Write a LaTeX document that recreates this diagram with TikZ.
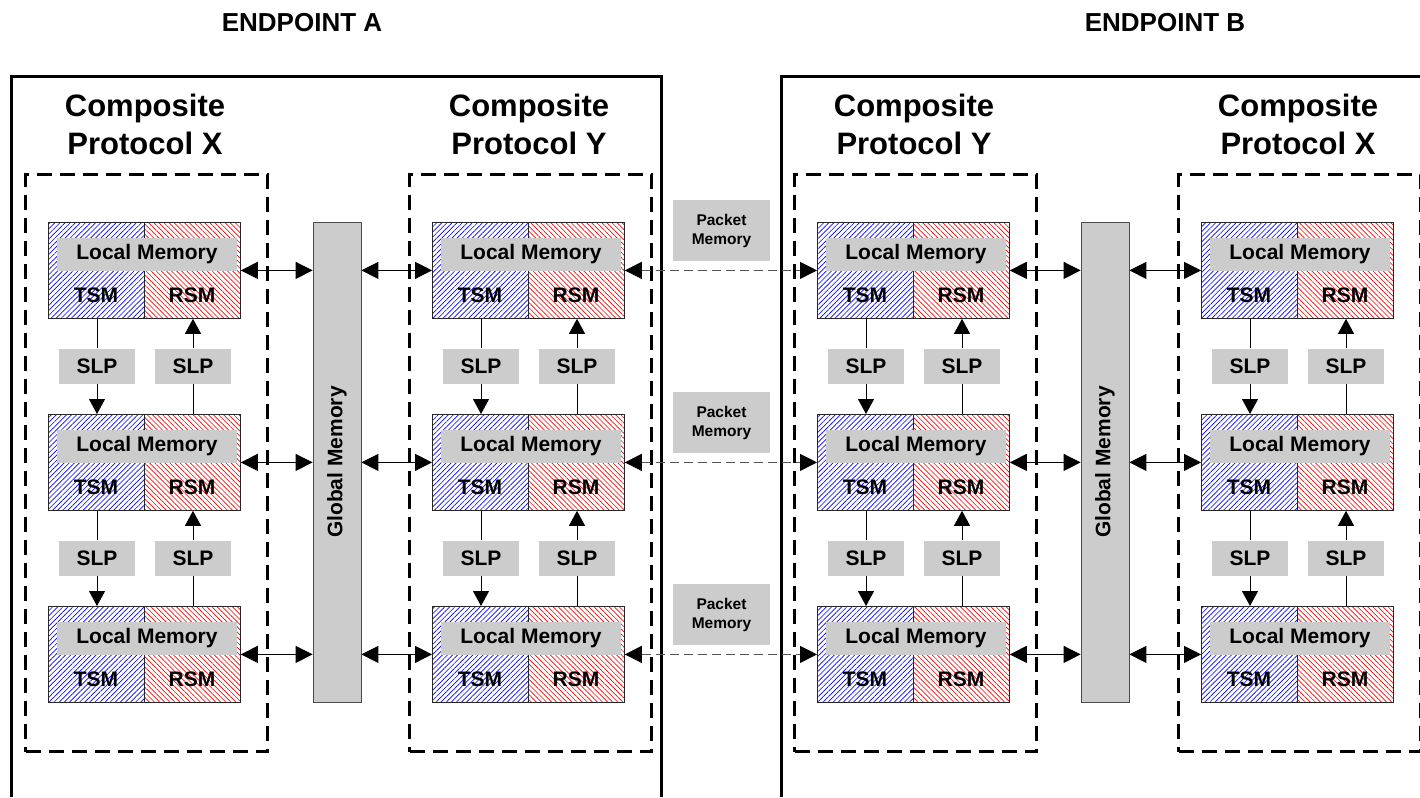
\documentclass[tikz,border=0pt]{standalone}
\usepackage{fontspec}
\setmainfont{Liberation Sans}
\usetikzlibrary{arrows.meta,patterns.meta}
\definecolor{boxgray}{HTML}{CCCCCC}
\definecolor{pktline}{HTML}{555555}
\tikzset{
  half/.style={draw=black!85, line width=0.8pt, minimum width=96pt, minimum height=96pt, inner sep=0pt},
  tsmbox/.style={half, pattern={Lines[angle=45,distance=3.6pt,line width=0.65pt]}, pattern color=blue},
  rsmbox/.style={half, pattern={Lines[angle=-45,distance=3.6pt,line width=0.65pt]}, pattern color=red},
  modframe/.style={draw=black!85, line width=0.8pt, minimum width=192pt, minimum height=96pt, inner sep=0pt},
  lmbar/.style={fill=boxgray, minimum width=180pt, minimum height=33pt, inner sep=0pt, font=\fontsize{21}{24}\selectfont\bfseries},
  modlbl/.style={inner sep=0pt, font=\fontsize{21}{24}\selectfont\bfseries},
  slpbox/.style={fill=boxgray, minimum width=76pt, minimum height=35pt, inner sep=0pt, font=\fontsize{21}{24}\selectfont\bfseries},
  gmbox/.style={fill=boxgray, draw=black!70, line width=0.8pt, minimum width=48pt, minimum height=480pt, inner sep=0pt, font=\fontsize{21}{24}\selectfont\bfseries},
  pktbox/.style={fill=boxgray, minimum width=97pt, minimum height=61pt, inner sep=0pt, align=center, font=\fontsize{15.5}{19}\selectfont\bfseries},
  dbox/.style={draw, line width=3pt, dash pattern=on 15pt off 8pt, minimum width=242pt, minimum height=577pt, inner sep=0pt},
  heading/.style={align=center, inner sep=0pt, font=\fontsize{31}{38}\selectfont\bfseries},
  title/.style={inner sep=0pt, font=\fontsize{26}{30}\selectfont\bfseries},
  dbl/.style={line width=0.9pt, arrows={Triangle[length=17pt,width=17pt]-Triangle[length=17pt,width=17pt]}},
  pkt/.style={line width=1.2pt, draw=pktline, dash pattern=on 9pt off 5pt, arrows={Triangle[length=17pt,width=17pt,color=black]-Triangle[length=17pt,width=17pt,color=black]}},
  sarr/.style={line width=0.9pt, arrows={-Triangle[length=15pt,width=16pt]}},
  sline/.style={line width=0.9pt},
  epbox/.style={line width=3pt}
}
\newcommand\mymod[3]{%
  \node[tsmbox,anchor=north west] (#1t) at (#2,#3) {};
  \node[rsmbox,anchor=north west] (#1r) at (#2+96,#3) {};
  \node[modframe,anchor=north west] (#1) at (#2,#3) {};
  \node[lmbar] (#1l) at (#2+99,#3+32) {Local Memory};
  \node[modlbl] (#1tl) at (#2+48,#3+73) {TSM};
  \node[modlbl] (#1rl) at (#2+144,#3+73) {RSM};
}
\begin{document}
\begin{tikzpicture}[x=1pt,y=-1pt]
\useasboundingbox (0,0) rectangle (1420,797);
% titles
\node[title] (tA) at (302,23) {ENDPOINT A};
\node[title] (tB) at (1165,23) {ENDPOINT B};
% endpoint frames
\coordinate (eA1) at (11,797);
\coordinate (eA2) at (11,77);
\coordinate (eA3) at (661,77);
\coordinate (eA4) at (661,797);
\draw[epbox] (eA1) -- (eA2) -- (eA3) -- (eA4);
\coordinate (eB1) at (781,797);
\coordinate (eB2) at (781,77);
\coordinate (eB3) at (1425,77);
\draw[epbox] (eB1) -- (eB2) -- (eB3);
% headings and dashed containers
\foreach \c/\d/\h in {ax/24/X, ay/408/Y, by/793/Y, bx/1177/X} {
  \node[dbox,anchor=north west] (d\c) at (\d,173) {};
  \node[heading] (h\c) at (\d+121,124) {Composite\\Protocol \h};
}
% global memories
\node[gmbox] (gA) at (337,462) {\rotatebox{90}{Global Memory}};
\node[gmbox] (gB) at (1105,462) {\rotatebox{90}{Global Memory}};
% modules
\foreach \c/\x in {ax/48, ay/432, by/817, bx/1201} {
  \foreach \r/\y in {1/222, 2/414, 3/606} {
    \mymod{\c\r}{\x}{\y}
  }
  \foreach \r/\y/\n in {1/222/2, 2/414/3} {
    \node[slpbox] (\c s\r a) at (\x+49,\y+144) {SLP};
    \node[slpbox] (\c s\r b) at (\x+145,\y+144) {SLP};
    \draw[sline] (\c s\r a.north |- \c\r.south) -- (\c s\r a.north);
    \draw[sarr] (\c s\r a.south) -- (\c s\r a.south |- \c\n.north);
    \draw[sarr] (\c s\r b.north) -- (\c s\r b.north |- \c\r.south);
    \draw[sline] (\c s\r b.south) -- (\c s\r b.south |- \c\n.north);
  }
}
% packet memories and horizontal links
\foreach \r/\py in {1/230.5, 2/422.5, 3/614.5} {
  \node[pktbox] (pm\r) at (721.5,\py) {Packet\\Memory};
  \draw[dbl] (ax\r.east) -- (ax\r.east -| gA.west);
  \draw[dbl] (ay\r.west -| gA.east) -- (ay\r.west);
  \draw[pkt] (ay\r.east) -- (by\r.west);
  \draw[dbl] (by\r.east) -- (by\r.east -| gB.west);
  \draw[dbl] (bx\r.west -| gB.east) -- (bx\r.west);
}
\end{tikzpicture}
\end{document}
